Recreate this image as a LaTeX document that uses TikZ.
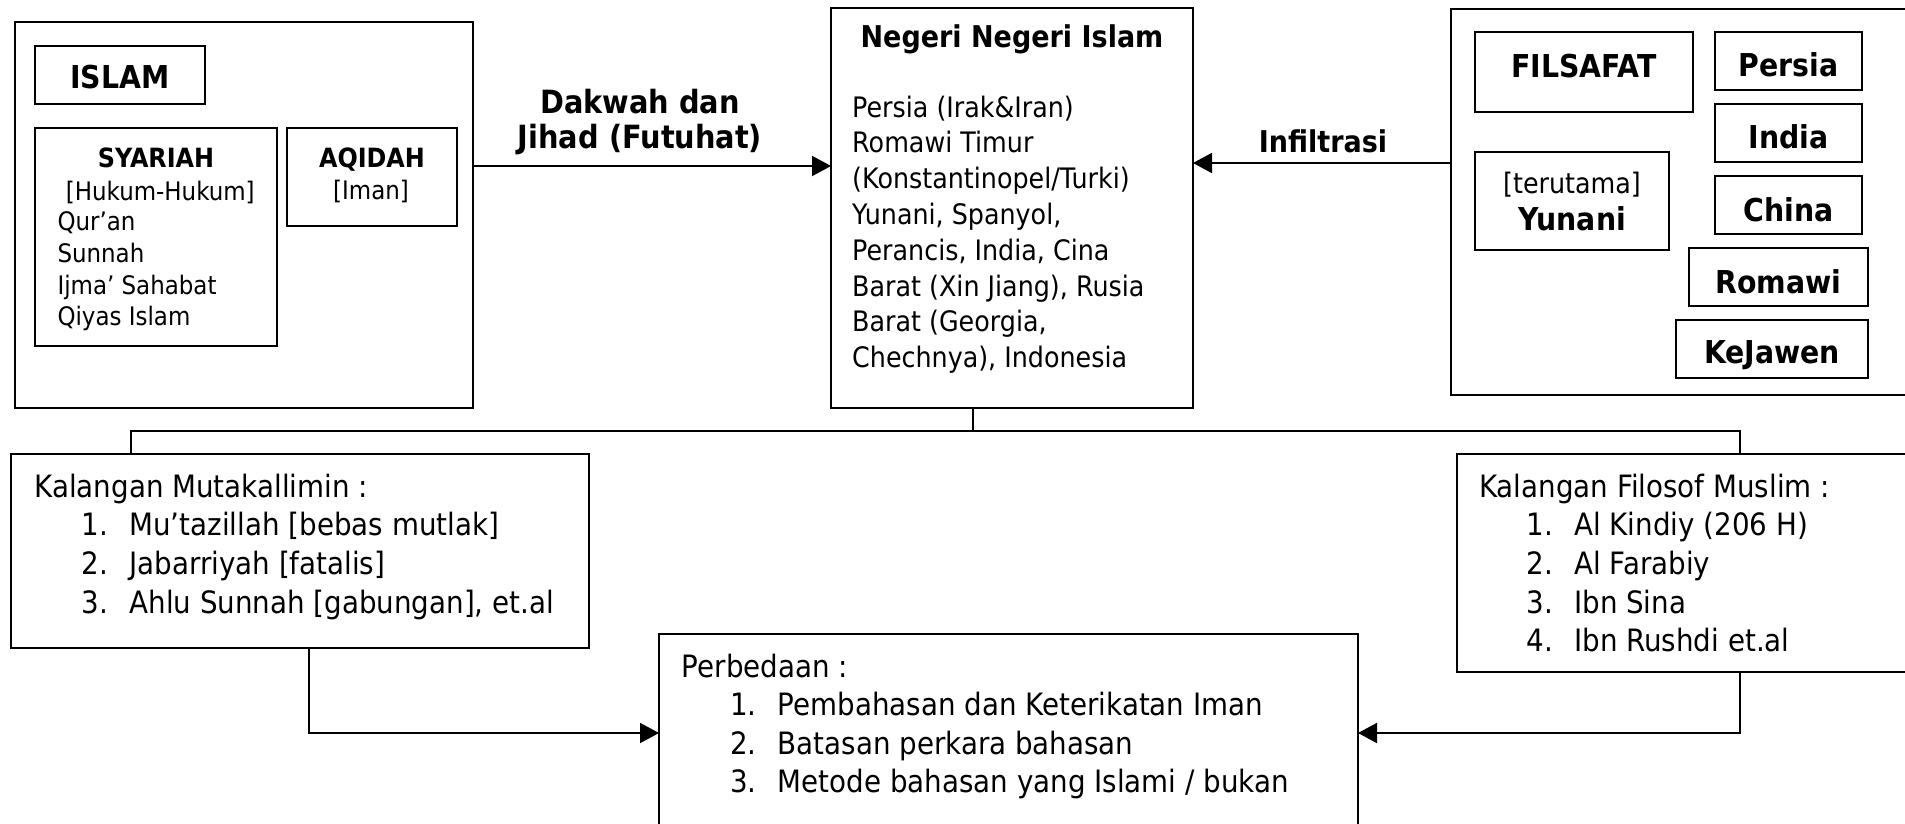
\documentclass[tikz,border=0pt]{standalone}
\usepackage{fontspec}
\setmainfont{DejaVu Sans}[FakeStretch=0.9]
\usetikzlibrary{arrows.meta}
\newcommand\fsz[1]{\fontsize{#1}{#1}\selectfont}
\newcommand\bx[5]{\node[box,minimum width={(#4)-(#2)},minimum height={(#5)-(#3)}] (#1) at (#2,#3) {};}
\begin{document}
\begin{tikzpicture}[x=1pt,y=-1pt,
  box/.style={draw,line width=2pt,inner sep=0pt,outer sep=0pt,anchor=north west},
  lbl/.style={inner sep=0pt,anchor=base west},
  clbl/.style={inner sep=0pt,anchor=base},
  conn/.style={line width=2pt},
  arr/.style={line width=2pt,-{Triangle[length=19pt,width=20pt]}},
  R12/.style={font=\fsz{30.8}},
  R11/.style={font=\fsz{28.2}},
  R10/.style={font=\fsz{25.5}},
  B12/.style={font=\fsz{31.5}\bfseries},
  B10/.style={font=\fsz{26.5}\bfseries}]
\useasboundingbox (0,0) rectangle (1905,823);
\clip (0,0) rectangle (1905,823);
% boxes
\bx{islambig}{15}{22}{473}{408}
\bx{islam}{35}{46}{205}{104}
\bx{syariah}{35}{128}{277}{346}
\bx{aqidah}{287}{128}{457}{226}
\bx{negeri}{831}{8}{1193}{408}
\bx{filsafatbig}{1451}{9}{1912}{395}
\bx{filsafat}{1475}{32}{1693}{112}
\bx{persia}{1715}{32}{1862}{90}
\bx{india}{1715}{104}{1862}{162}
\bx{china}{1715}{176}{1862}{234}
\bx{romawi}{1689}{248}{1868}{306}
\bx{kejawen}{1676}{320}{1868}{378}
\bx{yunani}{1475}{152}{1669}{250}
\bx{mutakallimin}{11}{454}{589}{648}
\bx{filosof}{1457}{454}{1912}{672}
\bx{perbedaan}{659}{634}{1358}{850}
% connector coordinates
\coordinate (dk) at (0,166);
\coordinate (inf) at (0,163);
\coordinate (bl) at (131,431);
\coordinate (bc) at (973,431);
\coordinate (br) at (1740,431);
\coordinate (al) at (309,733);
\coordinate (ar) at (1740,733);
% connectors
\draw[arr] (islambig.east |- dk) -- (negeri.west |- dk);
\draw[arr] (filsafatbig.west |- inf) -- (negeri.east |- inf);
\draw[conn] (negeri.south -| bc) -- (bc);
\draw[conn] (mutakallimin.north -| bl) -- (bl) -- (br) -- (filosof.north -| br);
\draw[arr] (mutakallimin.south -| al) -- (al) -- (perbedaan.west |- al);
\draw[arr] (filosof.south -| ar) -- (ar) -- (perbedaan.east |- ar);
% left group texts
\node[clbl,B12] (tislam) at (120,88) {ISLAM};
\node[clbl,B10] (tsyariah) at (156,167) {SYARIAH};
\node[lbl,R10] (thukum) at (65.7,200) {[Hukum-Hukum]};
\node[lbl,R10] (tquran) at (57.3,230) {Qur’an};
\node[lbl,R10] (tsunnah) at (57.3,262) {Sunnah};
\node[lbl,R10] (tijma) at (57.3,294) {Ijma’ Sahabat};
\node[lbl,R10] (tqiyas) at (57.3,325.5) {Qiyas Islam};
\node[clbl,B10] (taqidah) at (372,167) {AQIDAH};
\node[clbl,R10] (timan) at (371,199) {[Iman]};
% arrow labels
\node[clbl,font=\fsz{32}\bfseries] (tdakwah) at (640,113) {Dakwah dan};
\node[clbl,font=\fsz{32}\bfseries] (tjihad) at (640,148) {Jihad (Futuhat)};
\node[clbl,font=\fsz{30}\bfseries] (tinf) at (1323,152) {Infiltrasi};
% center box
\node[clbl,font=\fsz{30}\bfseries] (tnegeri) at (1012,47) {Negeri Negeri Islam};
\foreach \t [count=\i] in {Persia (Irak\&Iran),Romawi Timur,(Konstantinopel/Turki),{Yunani, Spanyol,},{Perancis, India, Cina},{Barat (Xin Jiang), Rusia},{Barat (Georgia,},{Chechnya), Indonesia}}
  \node[lbl,R11] (tneg\i) at (852,{117+35.8*(\i-1)}) {\t};
% right group texts
\node[clbl,B12] (tfilsafat) at (1584,77) {FILSAFAT};
\node[clbl,B12] (tpersia) at (1788.5,76) {Persia};
\node[clbl,B12] (tindia) at (1788.5,148) {India};
\node[clbl,B12] (tchina) at (1788.5,221) {China};
\node[clbl,B12] (tromawi) at (1778.5,293) {Romawi};
\node[clbl,B12] (tkejawen) at (1772,363) {KeJawen};
\node[clbl,R11] (tterutama) at (1572,193) {[terutama]};
\node[clbl,B12] (tyunani) at (1572,230) {Yunani};
% Kalangan Mutakallimin
\node[lbl,R12] (tmut) at (34.3,497) {Kalangan Mutakallimin :};
\foreach \t [count=\i] in {Mu’tazillah [bebas mutlak],Jabarriyah [fatalis],{Ahlu Sunnah [gabungan], et.al}}{
  \node[lbl,R12] (tmutn\i) at (81.7,{497+38.7*\i}) {\i.};
  \node[lbl,R12] (tmuti\i) at (129.3,{497+38.7*\i}) {\t};}
% Kalangan Filosof Muslim
\node[lbl,R12] (tfil) at (1479,497) {Kalangan Filosof Muslim :};
\foreach \t [count=\i] in {Al Kindiy (206 H),Al Farabiy,Ibn Sina,Ibn Rushdi et.al}{
  \node[lbl,R12] (tfiln\i) at (1526.7,{497+38.7*\i}) {\i.};
  \node[lbl,R12] (tfili\i) at (1574,{497+38.7*\i}) {\t};}
% Perbedaan
\node[lbl,R12] (tper) at (681.7,677) {Perbedaan :};
\foreach \t [count=\i] in {Pembahasan dan Keterikatan Iman,Batasan perkara bahasan,Metode bahasan yang Islami / bukan}{
  \node[lbl,R12] (tpern\i) at (730,{677+38.5*\i}) {\i.};
  \node[lbl,R12] (tperi\i) at (777.7,{677+38.5*\i}) {\t};}
\end{tikzpicture}
\end{document}
